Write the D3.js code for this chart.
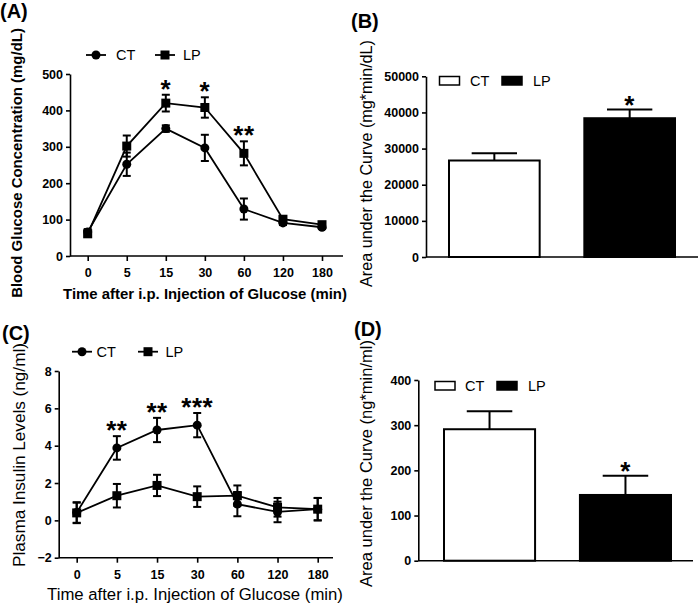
<!DOCTYPE html>
<html>
<head>
<meta charset="utf-8">
<script src="https://cdn.jsdelivr.net/npm/d3@7/dist/d3.min.js"></script>
<style>
  html, body { margin: 0; padding: 0; background: #fff; }
  svg { display: block; font-family: "Liberation Sans", Arial, sans-serif; }
</style>
</head>
<body>
<svg id="chart" width="699" height="606"></svg>
<script>
// ---------------- data ----------------
const timeLabels = ["0", "5", "15", "30", "60", "120", "180"];

const glucoseCT    = [66, 252, 350, 297, 129, 91, 79];
const glucoseCTerr = [8, 32, 9, 36, 29, 6, 5];
const glucoseLP    = [61, 302, 420, 408, 282, 101, 86];
const glucoseLPerr = [8, 29, 23, 28, 33, 6, 5];
const glucoseStars = ["", "", "*", "*", "**", "", ""];

const insulinCT    = [0.42, 3.88, 4.84, 5.1, 0.87, 0.45, 0.6];
const insulinCTerr = [0.55, 0.63, 0.65, 0.65, 0.65, 0.55, 0.6];
const insulinLP    = [0.4, 1.32, 1.87, 1.27, 1.32, 0.7, 0.6];
const insulinLPerr = [0.55, 0.63, 0.57, 0.55, 0.55, 0.5, 0.6];
const insulinStars = ["", "**", "**", "***", "", "", ""];

const groups = ["CT", "LP"];
const aucGlucose      = [26700, 38400];
const aucGlucoseErr   = [2000, 2400];
const aucGlucoseStars = ["", "*"];
const aucInsulin      = [291, 145.5];
const aucInsulinErr   = [40, 42.5];
const aucInsulinStars = ["", "*"];

const glucoseTicks = [0, 100, 200, 300, 400, 500];
const insulinTicks = [-2, 0, 2, 4, 6, 8];
const aucGlucoseTicks = [0, 10000, 20000, 30000, 40000, 50000];
const aucInsulinTicks = [0, 100, 200, 300, 400];

// ---------------- helpers ----------------
const svg = d3.select("#chart");

function fitText(sel, target) {
  const node = sel.node();
  const len = node.getComputedTextLength();
  const fs = parseFloat(sel.attr("font-size"));
  sel.attr("font-size", (fs * target / len).toFixed(2));
}

function styleAxis(g) {
  g.selectAll("path.domain").attr("stroke", "#000").attr("stroke-width", 1.6);
  g.selectAll(".tick line").attr("stroke", "#000").attr("stroke-width", 1.6);
  g.selectAll(".tick text").attr("fill", "#000")
    .attr("font-family", "'Liberation Sans', Arial, sans-serif")
    .attr("font-size", 12.5).attr("font-weight", "bold");
}

function stars(g, x, y, txt) {
  g.append("text").attr("x", x).attr("y", y + 15)
    .attr("text-anchor", "middle").attr("font-size", 26)
    .attr("font-weight", "bold").attr("letter-spacing", 0.5)
    .text(txt);
}

function linePanel(cfg) {
  const g = svg.append("g");
  const x = d3.scalePoint().domain(timeLabels).range([cfg.x0, cfg.x1]);
  const y = d3.scaleLinear().domain(cfg.yDomain).range([cfg.yBottom, cfg.yTop]);

  // y axis
  const ya = g.append("g").attr("transform", `translate(${cfg.left},0)`)
    .call(d3.axisLeft(y).tickValues(cfg.yTicks).tickSize(4).tickSizeOuter(0).tickPadding(3));
  styleAxis(ya);
  // x axis
  const xa = g.append("g").attr("transform", `translate(0,${cfg.yBottom})`)
    .call(d3.axisBottom(x).tickSize(5).tickSizeOuter(0).tickPadding(5));
  xa.select("path.domain").remove();
  xa.append("line").attr("x1", cfg.left).attr("x2", cfg.right)
    .attr("y1", 0).attr("y2", 0).attr("stroke", "#000").attr("stroke-width", 1.6);
  styleAxis(xa);
  xa.selectAll(".tick text").attr("dy", "0.9em");

  const series = [
    { vals: cfg.ct, err: cfg.ctErr, shape: "circle" },
    { vals: cfg.lp, err: cfg.lpErr, shape: "square" }
  ];
  const line = d3.line().x((d, i) => x(timeLabels[i])).y(d => y(d));
  series.forEach(s => {
    g.append("path").attr("d", line(s.vals)).attr("fill", "none")
      .attr("stroke", "#000").attr("stroke-width", 1.8);
    s.vals.forEach((v, i) => {
      const cx = x(timeLabels[i]);
      const top = y(v + s.err[i]), bot = y(v - s.err[i]);
      g.append("line").attr("x1", cx).attr("x2", cx).attr("y1", top).attr("y2", bot)
        .attr("stroke", "#000").attr("stroke-width", 2);
      [top, bot].forEach(yy => g.append("line").attr("x1", cx - 4).attr("x2", cx + 4)
        .attr("y1", yy).attr("y2", yy).attr("stroke", "#000").attr("stroke-width", 2));
      if (s.shape === "circle") {
        g.append("circle").attr("cx", cx).attr("cy", y(v)).attr("r", 4.5).attr("fill", "#000");
      } else {
        g.append("rect").attr("x", cx - 4.5).attr("y", y(v) - 4.5)
          .attr("width", 9).attr("height", 9).attr("fill", "#000");
      }
    });
  });

  // significance stars
  cfg.stars.forEach((st, i) => {
    if (!st) return;
    const topVal = Math.max(cfg.ct[i] + cfg.ctErr[i], cfg.lp[i] + cfg.lpErr[i]);
    stars(g, x(timeLabels[i]), y(topVal) - 12, st);
  });

  // legend
  const lg = g.append("g");
  cfg.legend.forEach((L, k) => {
    lg.append("line").attr("x1", L.x).attr("x2", L.x + 20).attr("y1", cfg.legendY).attr("y2", cfg.legendY)
      .attr("stroke", "#000").attr("stroke-width", 1.8);
    if (k === 0) lg.append("circle").attr("cx", L.x + 10).attr("cy", cfg.legendY).attr("r", 4.5);
    else lg.append("rect").attr("x", L.x + 5.5).attr("y", cfg.legendY - 4.5).attr("width", 9).attr("height", 9);
    lg.append("text").attr("x", L.tx).attr("y", cfg.legendY + 5).attr("font-size", 14.5)
      .text(groups[k]);
  });

  // titles
  const xt = g.append("text").attr("x", (cfg.xtitle[0] + cfg.xtitle[1]) / 2).attr("y", cfg.xtitleY)
    .attr("text-anchor", "middle").attr("font-size", 13).attr("font-weight", cfg.bold ? "bold" : "normal")
    .text("Time after i.p. Injection of Glucose (min)");
  fitText(xt, cfg.xtitle[1] - cfg.xtitle[0]);
  const yt = g.append("text")
    .attr("transform", `translate(${cfg.ytitleX},${(cfg.ytitle[0] + cfg.ytitle[1]) / 2}) rotate(-90)`)
    .attr("text-anchor", "middle").attr("font-size", 13).attr("font-weight", cfg.bold ? "bold" : "normal")
    .text(cfg.ylabel);
  fitText(yt, cfg.ytitle[1] - cfg.ytitle[0]);

  g.append("text").attr("x", cfg.letter[0]).attr("y", cfg.letter[1])
    .attr("font-size", 20).attr("font-weight", "bold").text(cfg.letterText);
}

function barPanel(cfg) {
  const g = svg.append("g");
  const x = d3.scaleBand().domain(groups).range([cfg.bx0, cfg.bx1]).paddingInner(0.33).paddingOuter(0);
  const y = d3.scaleLinear().domain(cfg.yDomain).range([cfg.yBottom, cfg.yTop]);

  const ya = g.append("g").attr("transform", `translate(${cfg.left},0)`)
    .call(d3.axisLeft(y).tickValues(cfg.yTicks).tickFormat(d3.format("d")).tickSize(4).tickSizeOuter(0).tickPadding(3));
  styleAxis(ya);

  const bw = x.bandwidth();
  groups.forEach((grp, i) => {
    const v = cfg.vals[i], e = cfg.err[i];
    const cx = x(grp) + bw / 2;
    g.append("line").attr("x1", cx).attr("x2", cx).attr("y1", y(v)).attr("y2", y(v + e))
      .attr("stroke", "#000").attr("stroke-width", 2);
    g.append("line").attr("x1", cx - bw / 4).attr("x2", cx + bw / 4).attr("y1", y(v + e)).attr("y2", y(v + e))
      .attr("stroke", "#000").attr("stroke-width", 2);
    g.append("rect").attr("x", x(grp)).attr("y", y(v)).attr("width", bw).attr("height", y(0) - y(v))
      .attr("fill", i === 0 ? "#fff" : "#000").attr("stroke", "#000").attr("stroke-width", 2);
    if (cfg.stars[i]) stars(g, cx, y(v + e) - 11, cfg.stars[i]);
  });

  g.append("line").attr("x1", cfg.left).attr("x2", cfg.right).attr("y1", cfg.yBottom).attr("y2", cfg.yBottom)
    .attr("stroke", "#000").attr("stroke-width", 1.6);

  // legend
  cfg.legend.forEach((L, k) => {
    g.append("rect").attr("x", L.x).attr("y", cfg.legendY - 4).attr("width", 20).attr("height", 8.5)
      .attr("fill", k === 0 ? "#fff" : "#000").attr("stroke", "#000").attr("stroke-width", 1.5);
    g.append("text").attr("x", L.tx).attr("y", cfg.legendY + 5).attr("font-size", 14.5).text(groups[k]);
  });

  const yt = g.append("text")
    .attr("transform", `translate(${cfg.ytitleX},${(cfg.ytitle[0] + cfg.ytitle[1]) / 2}) rotate(-90)`)
    .attr("text-anchor", "middle").attr("font-size", 13)
    .text(cfg.ylabel);
  fitText(yt, cfg.ytitle[1] - cfg.ytitle[0]);

  g.append("text").attr("x", cfg.letter[0]).attr("y", cfg.letter[1])
    .attr("font-size", 20).attr("font-weight", "bold").text(cfg.letterText);
}

// ---------------- panels ----------------
linePanel({
  left: 70, right: 343, x0: 87.7, x1: 322,
  yDomain: [0, 500], yBottom: 256, yTop: 74, yTicks: glucoseTicks,
  ct: glucoseCT, ctErr: glucoseCTerr, lp: glucoseLP, lpErr: glucoseLPerr, stars: glucoseStars,
  legendY: 55, legend: [{ x: 86, tx: 116 }, { x: 155, tx: 183 }],
  xtitle: [63, 347], xtitleY: 299, ytitle: [28, 298], ytitleX: 22, bold: true,
  ylabel: "Blood Glucose Concentration (mg/dL)",
  letter: [0, 18], letterText: "(A)"
});

barPanel({
  left: 426, right: 698, bx0: 449, bx1: 675,
  yDomain: [0, 50000], yBottom: 257, yTop: 76.3, yTicks: aucGlucoseTicks,
  vals: aucGlucose, err: aucGlucoseErr, stars: aucGlucoseStars,
  legendY: 80.5, legend: [{ x: 439.5, tx: 470 }, { x: 502, tx: 533 }],
  ytitle: [40, 287], ytitleX: 372,
  ylabel: "Area under the Curve (mg*min/dL)",
  letter: [351, 28], letterText: "(B)"
});

linePanel({
  left: 58.7, right: 333, x0: 76.7, x1: 317.7,
  yDomain: [-2, 8], yBottom: 557.7, yTop: 371, yTicks: insulinTicks,
  ct: insulinCT, ctErr: insulinCTerr, lp: insulinLP, lpErr: insulinLPerr, stars: insulinStars,
  legendY: 351.7, legend: [{ x: 72, tx: 96.5 }, { x: 138, tx: 165.5 }],
  xtitle: [47, 343], xtitleY: 600, ytitle: [343, 567], ytitleX: 25, bold: false,
  ylabel: "Plasma Insulin Levels (ng/ml)",
  letter: [2, 340], letterText: "(C)"
});

barPanel({
  left: 418.3, right: 693, bx0: 444, bx1: 671,
  yDomain: [0, 400], yBottom: 560.7, yTop: 380, yTicks: aucInsulinTicks,
  vals: aucInsulin, err: aucInsulinErr, stars: aucInsulinStars,
  legendY: 385.5, legend: [{ x: 435, tx: 465 }, { x: 497, tx: 528 }],
  ytitle: [340, 587], ytitleX: 372,
  ylabel: "Area under the Curve (ng*min/ml)",
  letter: [354, 336], letterText: "(D)"
});
</script>
</body>
</html>
